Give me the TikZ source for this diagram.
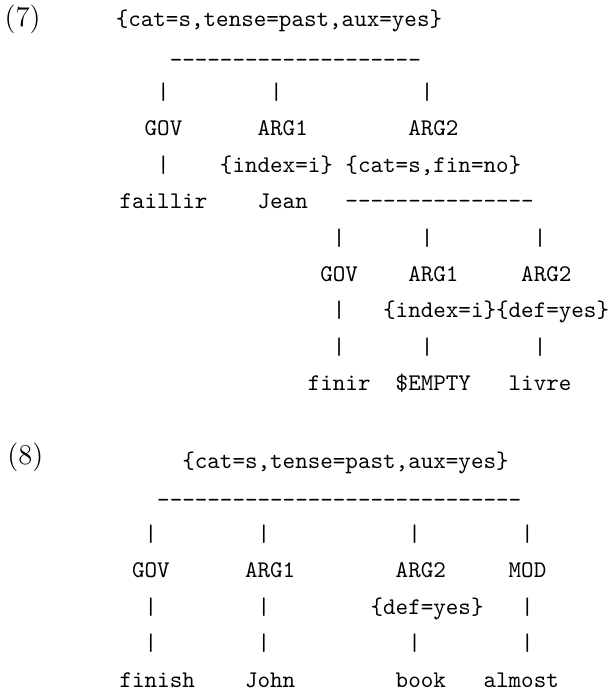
\documentclass[tikz,border=0pt]{standalone}
\usepackage{fontspec}
\usepackage{tikz}

\newcommand{\dashrow}[1]{\foreach \d in {1,...,#1}{-}}

\tikzset{
  mono/.style={font=\ttfamily, anchor=base west, inner sep=0pt},
  exnum/.style={font=\large, anchor=base west, inner sep=0pt}
}

\begin{document}
\begin{tikzpicture}[x=5.25pt, y=-15.227pt]
    \useasboundingbox (-0.486,0) rectangle (47.88,18.98);

    % Example (7)
    \begin{scope}[shift={(0,0.73)}]
    \node[exnum] (ex7) at (-0.15,0) {(7)};
    \node[mono] (top7) at (8.7,0) {\{cat=s,tense=past,aux=yes\}};
    \node[mono] (line7a) at (13,1.12) {\dashrow{20}};
    \foreach \c [count=\n] in {12,21,33} \node[mono] (bar7a\n) at (\c,2) {|};
    \node[mono] (gov7a) at (11,3) {GOV};
    \node[mono] (argi7a) at (20,3) {ARG1};
    \node[mono] (argii7a) at (32,3) {ARG2};
    \node[mono] (bar7b) at (12,4) {|};
    \node[mono] (fs7a) at (17,4) {\{index=i\}};
    \node[mono] (fs7b) at (27,4) {\{cat=s,fin=no\}};
    \node[mono] (faillir) at (9,5) {faillir};
    \node[mono] (jean) at (20,5) {Jean};
    \node[mono] (line7b) at (27,5) {\dashrow{15}};
    \foreach \c [count=\n] in {26,33,42} \node[mono] (bar7c\n) at (\c,6) {|};
    \node[mono] (gov7b) at (25,7) {GOV};
    \node[mono] (argi7b) at (32,7) {ARG1};
    \node[mono] (argii7b) at (41,7) {ARG2};
    \node[mono] (bar7d) at (26,8) {|};
    \node[mono] (fs7c) at (30,8) {\{index=i\}};
    \node[mono] (fs7d) at (39,8) {\{def=yes\}};
    \foreach \c [count=\n] in {26,33,42} \node[mono] (bar7e\n) at (\c,9) {|};
    \node[mono] (finir) at (24,10) {finir};
    \node[mono] (empty) at (31,10) {\$EMPTY};
    \node[mono] (livre) at (40,10) {livre};
    \end{scope}

    % Example (8)
    \begin{scope}[shift={(0,12.87)}]
    \node[exnum] (ex8) at (0.07,-0.1) {(8)};
    \node[mono] (top8) at (14,0) {\{cat=s,tense=past,aux=yes\}};
    \node[mono] (line8) at (12,1.08) {\dashrow{29}};
    \foreach \c [count=\n] in {11,20,32,41} \node[mono] (bar8a\n) at (\c,2) {|};
    \node[mono] (gov8) at (10,3) {GOV};
    \node[mono] (argi8) at (19,3) {ARG1};
    \node[mono] (argii8) at (31,3) {ARG2};
    \node[mono] (mod8) at (40,3) {MOD};
    \foreach \c [count=\n] in {11,20} \node[mono] (bar8b\n) at (\c,4) {|};
    \node[mono] (fs8) at (29,4) {\{def=yes\}};
    \node[mono] (bar8b3) at (41,4) {|};
    \foreach \c [count=\n] in {11,20,32,41} \node[mono] (bar8c\n) at (\c,5) {|};
    \node[mono] (finish) at (9,6) {finish};
    \node[mono] (john) at (19,6) {John};
    \node[mono] (book) at (31,6) {book};
    \node[mono] (almost) at (38,6) {almost};
    \end{scope}
\end{tikzpicture}
\end{document}
